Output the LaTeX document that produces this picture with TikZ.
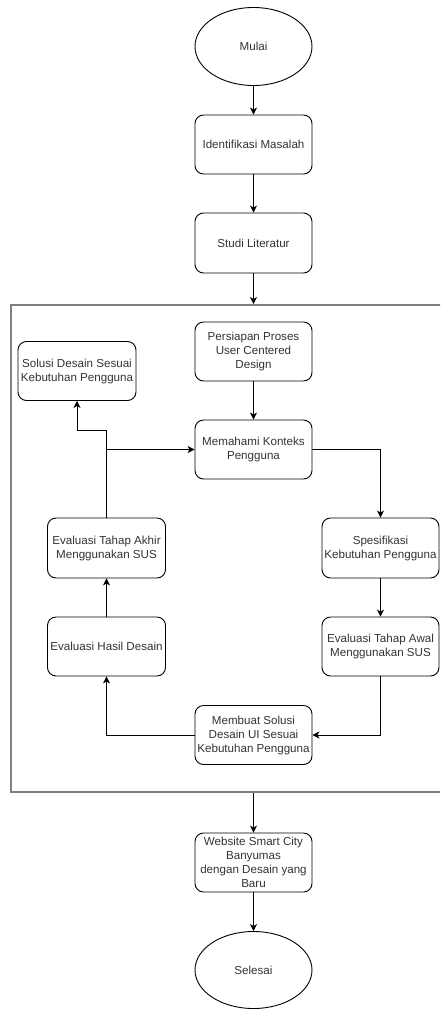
\documentclass[tikz,border=0pt]{standalone}
\usepackage{fontspec}
\setmainfont{Liberation Sans}
\usetikzlibrary{shapes.geometric,arrows.meta}
\definecolor{txt}{HTML}{333333}
\definecolor{grp}{HTML}{808080}
\tikzset{
  base/.style={draw=black, line width=0.9pt, text=txt, align=center, inner sep=1pt,
    font=\fontsize{11.6}{14}\selectfont},
  stepbox/.style={base, rectangle, rounded corners=8.5pt, minimum width=117pt, minimum height=59pt},
  term/.style={base, ellipse, minimum width=117pt, minimum height=78pt, inner sep=0pt},
  arr/.style={draw=black, line width=0.9pt, -{Stealth[length=7pt,width=7pt,inset=2pt]}},
  groupbox/.style={draw=grp, line width=2pt, rectangle, minimum width=431.5pt, minimum height=486.5pt, inner sep=0pt}
}
\begin{document}
\begin{tikzpicture}[x=1pt,y=-1pt]
\useasboundingbox (0,0) rectangle (440,1009);
\clip (0,0) rectangle (440,1009);
\node[groupbox] (grp) at (226.25,548.25) {};
\node[term] (mulai) at (253.5,46.5) {Mulai};
\node[stepbox] (ident) at (253.5,144.5) {Identifikasi Masalah};
\node[stepbox, minimum height=60pt] (studi) at (253.5,243) {Studi Literatur};
\node[stepbox] (persiapan) at (253.5,351.5) {Persiapan Proses\\User Centered\\Design};
\node[stepbox, minimum width=118pt] (solusi) at (77,371) {Solusi Desain Sesuai\\Kebutuhan Pengguna};
\node[stepbox] (memahami) at (253.5,449.5) {Memahami Konteks\\Pengguna};
\node[stepbox, minimum height=60pt] (spes) at (380.5,548) {Spesifikasi\\Kebutuhan Pengguna};
\node[stepbox] (awal) at (380.5,646.5) {Evaluasi Tahap Awal\\Menggunakan SUS};
\node[stepbox] (membuat) at (253.5,735) {Membuat Solusi\\Desain UI Sesuai\\Kebutuhan Pengguna};
\node[stepbox, minimum width=118pt] (hasil) at (106.5,646.5) {Evaluasi Hasil Desain};
\node[stepbox, minimum width=118pt, minimum height=60pt] (akhir) at (106.5,548) {Evaluasi Tahap Akhir\\Menggunakan SUS};
\node[stepbox] (web) at (253.5,862.5) {Website Smart City\\Banyumas\\dengan Desain yang\\Baru};
\node[term, minimum height=77pt] (selesai) at (253.5,970) {Selesai};
\coordinate (turn) at (0,430);

\draw[arr] (mulai) -- (ident);
\draw[arr] (ident) -- (studi);
\draw[arr] (studi.south) -- (studi.south |- grp.north);
\draw[arr] (persiapan) -- (memahami);
\draw[arr] (memahami.east) -| (spes.north);
\draw[arr] (spes) -- (awal);
\draw[arr] (awal.south) |- (membuat.east);
\draw[arr] (membuat.west) -| (hasil.south);
\draw[arr] (hasil) -- (akhir);
\draw[arr] (akhir.north) |- (memahami.west);
\draw[arr] (akhir.north) -- (akhir.north |- turn) -| (solusi.south);
\draw[arr] (web.north |- grp.south) -- (web.north);
\draw[arr] (web) -- (selesai);
\end{tikzpicture}
\end{document}
